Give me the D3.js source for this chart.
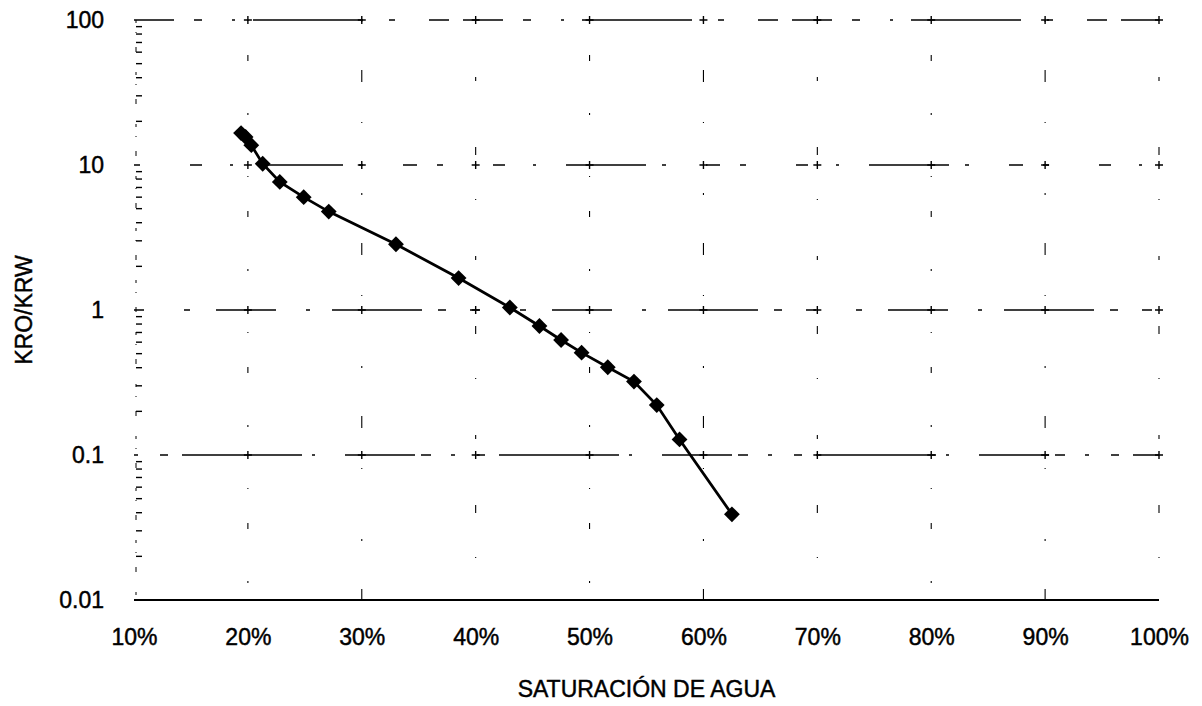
<!DOCTYPE html>
<html>
<head>
<meta charset="utf-8">
<script src="https://cdn.jsdelivr.net/npm/d3@7"></script>
<style>
  html, body { margin: 0; padding: 0; background: #fff; }
  svg { display: block; }
  text { font-family: "Liberation Sans", Arial, sans-serif; fill: #000; stroke: #000; stroke-width: 0.45px; }
</style>
</head>
<body>
<svg id="chart" width="1202" height="706"></svg>
<script>
// Water saturation (fraction) and relative permeability ratio kro/krw
const saturation = [0.194, 0.198, 0.203, 0.213, 0.228, 0.249, 0.271, 0.330, 0.385,
                    0.430, 0.456, 0.475, 0.493, 0.516, 0.539, 0.559, 0.579, 0.625];
const kroKrw = [16.6, 15.6, 13.7, 10.2, 7.64, 6.0, 4.77, 2.84, 1.66,
                1.04, 0.776, 0.621, 0.508, 0.403, 0.321, 0.221, 0.128, 0.039];

// Axis ticks and labels
const xTicks = [0.1, 0.2, 0.3, 0.4, 0.5, 0.6, 0.7, 0.8, 0.9, 1.0];
const xTickLabels = ["10%", "20%", "30%", "40%", "50%", "60%", "70%", "80%", "90%", "100%"];
const yTicks = [0.01, 0.1, 1, 10, 100];
const yTickLabels = ["0.01", "0.1", "1", "10", "100"];
const xTitle = "SATURACIÓN DE AGUA";
const yTitle = "KRO/KRW";

const svg = d3.select("#chart");
const plotL = 134, plotR = 1159, plotT = 20, plotB = 600;

const x = d3.scaleLinear().domain([0.1, 1.0]).range([plotL, plotR]);
const y = d3.scaleLog().domain([0.01, 100]).range([plotB, plotT]);

// Broken-looking dashed grid
const grid = svg.append("g");
grid.selectAll("line.h")
  .data(yTicks.filter(v => v > 0.01))
  .join("line")
  .attr("x1", plotL).attr("x2", plotR)
  .attr("y1", d => y(d)).attr("y2", d => y(d))
  .attr("stroke", "#000")
  .attr("stroke-width", 1.5)
  .attr("stroke-dasharray", (d, i) => [
    "4,22,8,14,120,10,3,30,70,6,10,20",
    "10,40,6,26,60,30,4,22,90,16,8,24",
    "6,50,12,28,3,30,80,16,4,40,14,20",
    "40,20,8,30,3,18,110,26,6,34,20,14"][i % 4]);

grid.selectAll("line.v")
  .data(xTicks.slice(1))
  .join("line")
  .attr("x1", d => x(d)).attr("x2", d => x(d))
  .attr("y1", plotT).attr("y2", plotB)
  .attr("stroke", "#000")
  .attr("stroke-width", 1.1)
  .attr("stroke-dasharray", (d, i) => ["1,34,6,52,2,61", "2,48,12,40,1,70", "1,56,4,66,8,44"][i % 3]);

// Small crosses at grid intersections
const crosses = [];
xTicks.slice(1).forEach(a => yTicks.slice(1).forEach(b => crosses.push([a, b])));
grid.selectAll("path.cross")
  .data(crosses)
  .join("path")
  .attr("d", d => {
    const cx = x(d[0]), cy = y(d[1]);
    return `M${cx - 4},${cy}H${cx + 4}M${cx},${cy - 4}V${cy + 4}`;
  })
  .attr("stroke", "#000")
  .attr("stroke-width", 1.4);

// Bottom axis line and labels
svg.append("line")
  .attr("x1", plotL).attr("x2", plotR)
  .attr("y1", y(0.01)).attr("y2", y(0.01))
  .attr("stroke", "#000").attr("stroke-width", 1.8);

const xAxis = d3.axisBottom(x)
  .tickValues(xTicks)
  .tickFormat((d, i) => xTickLabels[i])
  .tickSize(0)
  .tickPadding(29);
svg.append("g")
  .attr("transform", `translate(0,${plotB})`)
  .call(xAxis)
  .call(g => g.select(".domain").remove())
  .call(g => g.selectAll("text")
    .style("font-family", "'Liberation Sans', Arial, sans-serif")
    .style("font-size", "23px")
    .attr("fill", "#000"));

// Left axis: minor ticks inside the plot, decade labels outside
const minor = [];
for (let e = -2; e < 2; e++) for (let m = 2; m <= 9; m++) minor.push(m * Math.pow(10, e));
const yAxis = d3.axisLeft(y)
  .tickValues(yTicks)
  .tickFormat((d, i) => yTickLabels[i])
  .tickSize(0)
  .tickPadding(30);
svg.append("g")
  .attr("transform", `translate(${plotL},0)`)
  .call(yAxis)
  .call(g => g.select(".domain").remove())
  .call(g => g.selectAll("text")
    .style("font-family", "'Liberation Sans', Arial, sans-serif")
    .style("font-size", "23px")
    .attr("fill", "#000"));

svg.append("g").selectAll("line")
  .data(minor)
  .join("line")
  .attr("x1", plotL + 2).attr("x2", plotL + 8)
  .attr("y1", d => y(d)).attr("y2", d => y(d))
  .attr("stroke", "#000").attr("stroke-width", 1.4);
svg.append("line")
  .attr("x1", plotL + 2).attr("x2", plotL + 2)
  .attr("y1", plotT).attr("y2", plotB)
  .attr("stroke", "#000").attr("stroke-width", 1)
  .attr("stroke-dasharray", "3,9,1,14,5,20");

// Axis titles
svg.append("text")
  .attr("x", (plotL + plotR) / 2)
  .attr("y", 697)
  .attr("text-anchor", "middle")
  .style("font-size", "23px")
  .text(xTitle);
svg.append("text")
  .attr("transform", `translate(24,${y(1)}) rotate(-90)`)
  .attr("text-anchor", "middle")
  .attr("dominant-baseline", "central")
  .style("font-size", "23px")
  .text(yTitle);

// Data line and diamond markers
const pts = saturation.map((s, i) => [s, kroKrw[i]]);
svg.append("path")
  .datum(pts)
  .attr("fill", "none")
  .attr("stroke", "#000")
  .attr("stroke-width", 2.8)
  .attr("d", d3.line().x(d => x(d[0])).y(d => y(d[1])));

svg.append("g").selectAll("path")
  .data(pts)
  .join("path")
  .attr("transform", d => `translate(${x(d[0])},${y(d[1])}) rotate(45)`)
  .attr("d", d3.symbol().type(d3.symbolSquare).size(125))
  .attr("fill", "#000");
</script>
</body>
</html>
